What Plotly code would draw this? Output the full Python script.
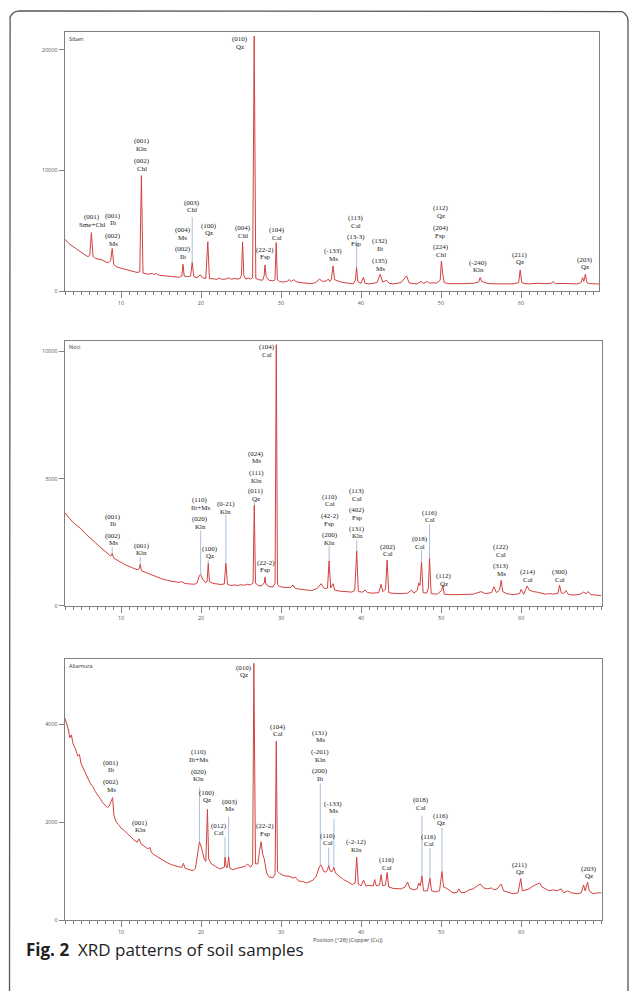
import plotly.graph_objects as go

W, H = 629, 995

# ---------------- Sibari (top) ----------------
sib_x = [3.0, 3.5, 4.0, 4.5, 5.0, 5.5, 5.9, 6.1, 6.3, 6.5, 6.8, 7.2, 7.6, 8.0, 8.4, 8.7, 8.9, 9.1, 9.5, 10.0,
         10.5, 11.0, 11.5, 12.0, 12.35, 12.55, 12.75, 13.0, 13.5, 13.9, 14.1, 14.4, 14.6, 15.0, 15.7, 16.5, 17.3, 17.6, 17.75, 17.9,
         18.3, 18.7, 18.9, 19.1, 19.5, 19.9, 20.2, 20.6, 20.85, 21.05, 21.5, 22.0, 22.3, 22.6, 23.1, 23.5, 23.8, 24.2, 24.5, 24.9,
         25.05, 25.2, 25.35, 25.6, 25.9, 26.2, 26.45, 26.65, 26.85, 27.2, 27.7, 27.9, 28.0, 28.15, 28.5, 29.0, 29.25, 29.4, 29.55, 29.8,
         30.3, 30.8, 31.0, 31.3, 31.6, 31.9, 32.5, 33.2, 33.8, 34.3, 34.8, 35.2, 35.7, 35.9, 36.1, 36.3, 36.5, 36.7, 37.0, 37.5,
         38.0, 38.5, 39.0, 39.3, 39.45, 39.6, 40.0, 40.3, 40.5, 41.0, 41.5, 42.0, 42.4, 42.7, 43.2, 43.5, 44.0, 44.5, 45.0, 45.7,
         46.0, 46.5, 47.0, 47.5, 47.8, 48.3, 48.6, 49.0, 49.4, 49.9, 50.05, 50.2, 50.4, 51.0, 52.0, 53.0, 54.0, 54.7, 54.9, 55.1,
         55.5, 56.0, 57.0, 58.0, 59.0, 59.7, 59.9, 60.1, 60.5, 61.0, 62.0, 63.0, 63.8, 64.0, 64.3, 65.0, 66.0, 67.0, 67.5, 67.7,
         67.85, 68.05, 68.25, 68.6, 69.3, 70.0]
sib_y = [4300, 3950, 3700, 3450, 3200, 3000, 2850, 3000, 4850, 2900, 2700, 2650, 2600, 2450, 2350, 2500, 3530, 2200, 2000, 1900,
         1800, 1700, 1620, 1550, 1600, 9580, 1500, 1450, 1400, 1480, 1380, 1450, 1350, 1300, 1250, 1200, 1150, 1250, 2230, 1250,
         1200, 1250, 2370, 1200, 1100, 1350, 1100, 1050, 4100, 1050, 1000, 980, 1080, 980, 1000, 1100, 980, 1050, 1000, 1050,
         1300, 4080, 1300, 1000, 1100, 1000, 1100, 21150, 1050, 950, 900, 1300, 2170, 1200, 900, 850, 950, 4020, 950, 800,
         750, 820, 950, 800, 950, 780, 700, 650, 620, 700, 1000, 800, 850, 1000, 800, 1000, 2090, 950, 850, 750,
         700, 650, 600, 900, 1960, 800, 650, 1150, 650, 600, 650, 700, 1400, 750, 900, 650, 600, 650, 700, 1270,
         700, 620, 600, 800, 650, 800, 650, 700, 650, 900, 2500, 1500, 700, 620, 600, 620, 650, 750, 1130, 800,
         700, 620, 600, 580, 600, 700, 1760, 700, 620, 600, 650, 620, 650, 800, 620, 640, 650, 600, 700, 1130,
         800, 1400, 700, 620, 600, 600]
sib_lab_x = [6.4, 9.04, 9.04, 12.58, 12.58, 18.83, 17.7, 17.7, 21.0, 25.2, 24.9, 28.0, 29.46,
             36.54, 39.38, 39.38, 42.38, 42.38, 49.96, 49.96, 49.96, 54.67, 59.9, 68.0]
sib_lab_y = [6110, 6250, 4540, 12440, 10790, 7350, 5060, 3490, 5420, 5200, 20900, 3440, 5060,
             3300, 6050, 4510, 4130, 2480, 6860, 5200, 3630, 2340, 3000, 2590]
sib_lab_hkl = ["(001)", "(001)", "(002)", "(001)", "(002)", "(003)", "(004)", "(002)", "(100)", "(004)", "(010)", "(22-2)", "(104)",
               "(-133)", "(113)", "(13-3)", "(132)", "(135)", "(112)", "(204)", "(224)", "(-240)", "(211)", "(203)"]
sib_lab_ph = ["Sme+Chl", "Ilt", "Ms", "Kln", "Chl", "Chl", "Ms", "Ilt", "Qz", "Chl", "Qz", "Fsp", "Cal",
              "Ms", "Cal", "Fsp", "Ilt", "Ms", "Qz", "Fsp", "Chl", "Kln", "Qz", "Qz"]
sib_stick_x = [18.9, 39.45]
sib_stick_top = [6140, 4180]
sib_stick_bot = [2370, 1960]

# ---------------- Noci (middle) ----------------
noc_x = [3.0, 3.5, 4.0, 4.5, 5.0, 5.5, 6.0, 6.5, 7.0, 7.5, 8.0, 8.4, 8.7, 8.9, 9.1, 9.5, 10.0, 10.5, 11.0, 11.5,
         12.0, 12.25, 12.4, 12.55, 13.0, 13.5, 14.0, 14.6, 15.2, 15.8, 16.5, 17.2, 17.6, 18.0, 18.6, 19.2, 19.5, 19.8, 19.95, 20.2,
         20.5, 20.75, 20.9, 21.05, 21.5, 22.0, 22.5, 22.9, 23.1, 23.3, 23.7, 24.2, 24.6, 25.0, 25.4, 25.8, 26.2, 26.5, 26.65, 26.8,
         27.1, 27.5, 27.9, 28.0, 28.1, 28.5, 29.0, 29.25, 29.4, 29.55, 29.8, 30.5, 31.2, 31.5, 31.7, 32.2, 33.0, 33.8, 34.5, 35.0,
         35.4, 35.8, 36.0, 36.2, 36.5, 36.7, 37.3, 38.0, 38.8, 39.2, 39.45, 39.65, 40.2, 40.5, 40.8, 41.5, 42.2, 42.5, 42.7, 43.05,
         43.25, 43.45, 44.0, 45.0, 45.8, 46.3, 46.6, 47.0, 47.2, 47.35, 47.55, 47.75, 48.2, 48.4, 48.55, 48.75, 49.5, 50.05, 50.2, 50.4,
         51.0, 52.0, 53.0, 54.0, 55.0, 55.5, 56.3, 56.6, 56.9, 57.3, 57.5, 57.7, 58.2, 59.0, 59.8, 60.0, 60.3, 60.75, 61.0, 61.5,
         62.0, 62.5, 63.0, 63.5, 64.0, 64.6, 64.8, 65.0, 65.3, 65.6, 65.9, 66.5, 67.0, 67.4, 67.8, 68.1, 68.4, 68.7, 69.2, 70.0]
noc_y = [3650, 3450, 3280, 3150, 3030, 2850, 2700, 2540, 2400, 2280, 2150, 2050, 1950, 2050, 1880, 1800, 1700, 1620, 1550, 1480,
         1420, 1450, 1630, 1380, 1320, 1250, 1180, 1110, 1050, 1000, 960, 920, 950, 880, 860, 850, 900, 1200, 1240, 1050,
         920, 950, 1670, 950, 880, 860, 840, 860, 1670, 850, 800, 820, 800, 830, 810, 850, 820, 900, 3950, 900,
         800, 780, 900, 1130, 850, 760, 740, 900, 10260, 850, 760, 720, 730, 820, 700, 660, 620, 600, 680, 870,
         680, 700, 1760, 700, 870, 620, 580, 560, 540, 600, 2150, 560, 540, 620, 520, 500, 520, 850, 560, 650,
         1800, 520, 490, 480, 500, 620, 500, 600, 900, 800, 1720, 520, 500, 700, 1860, 480, 460, 600, 800, 460,
         440, 440, 440, 460, 560, 480, 520, 750, 520, 620, 1000, 560, 480, 440, 480, 650, 450, 780, 620, 560,
         540, 500, 460, 480, 460, 500, 810, 520, 480, 600, 450, 420, 440, 460, 540, 480, 560, 440, 430, 400]
noc_lab_x = [9.0, 9.0, 12.6, 19.9, 19.9, 21.1, 23.1, 26.9, 26.9, 26.9, 28.1, 28.2,
             36.1, 36.1, 36.1, 39.5, 39.5, 39.5, 43.3, 47.3, 48.6, 50.4, 57.5, 57.5, 60.9, 64.8]
noc_lab_y = [3510, 2750, 2360, 4150, 3400, 2240, 4000, 5970, 5215, 4500, 1690, 10150,
             4280, 3530, 2780, 4500, 3760, 3025, 2320, 2620, 3665, 1160, 2310, 1565, 1330, 1330]
noc_lab_hkl = ["(001)", "(002)", "(001)", "(110)", "(020)", "(100)", "(0-21)", "(024)", "(111)", "(011)", "(22-2)", "(104)",
               "(110)", "(42-2)", "(200)", "(113)", "(402)", "(131)", "(202)", "(018)", "(116)", "(112)", "(122)", "(313)", "(214)", "(300)"]
noc_lab_ph = ["Ilt", "Ms", "Kln", "Ilt+Ms", "Kln", "Qz", "Kln", "Ms", "Kln", "Qz", "Fsp", "Cal",
              "Cal", "Fsp", "Kln", "Cal", "Fsp", "Kln", "Cal", "Cal", "Cal", "Qz", "Cal", "Ms", "Cal", "Cal"]
noc_stick_x = [8.9, 12.4, 19.95, 20.9, 23.1, 26.65, 36.0, 39.45, 47.55, 48.55]
noc_stick_top = [2310, 1920, 2960, 1820, 3560, 4110, 2370, 2580, 2190, 3220]
noc_stick_bot = [1960, 1630, 1240, 1670, 1670, 3950, 1760, 2150, 1720, 1860]

# ---------------- Altamura (bottom) ----------------
alt_x = [3.0, 3.2, 3.4, 3.6, 3.8, 4.0, 4.3, 4.6, 4.8, 5.0, 5.3, 5.6, 5.9, 6.2, 6.5, 6.8, 7.1, 7.4, 7.7, 8.0,
         8.3, 8.5, 8.7, 8.8, 8.95, 9.1, 9.4, 9.7, 10.0, 10.4, 10.8, 11.2, 11.6, 12.0, 12.25, 12.5, 12.9, 13.3, 13.6, 13.8,
         14.2, 14.7, 15.2, 15.7, 16.2, 16.7, 17.2, 17.6, 17.8, 18.0, 18.5, 19.0, 19.3, 19.6, 19.8, 20.1, 20.4, 20.6, 20.8, 20.95,
         21.3, 21.8, 22.3, 22.6, 22.9, 23.0, 23.15, 23.3, 23.45, 23.6, 24.0, 24.5, 25.0, 25.5, 25.8, 26.2, 26.45, 26.6, 26.8, 27.1,
         27.3, 27.5, 27.7, 27.9, 28.2, 28.5, 29.0, 29.25, 29.4, 29.55, 29.8, 30.2, 30.6, 31.0, 31.5, 31.8, 32.2, 32.7, 33.2, 33.6,
         34.0, 34.4, 34.8, 35.0, 35.3, 35.6, 35.8, 35.95, 36.15, 36.4, 36.6, 36.8, 37.2, 37.8, 38.4, 38.9, 39.25, 39.45, 39.65, 40.0,
         40.3, 40.6, 41.0, 41.5, 41.7, 41.9, 42.3, 42.5, 42.7, 43.05, 43.25, 43.45, 44.0, 45.0, 45.5, 45.8, 46.1, 46.6, 47.0, 47.2,
         47.4, 47.6, 47.8, 48.3, 48.6, 48.8, 49.3, 49.8, 50.1, 50.3, 50.6, 51.0, 51.5, 52.0, 52.2, 52.5, 53.0, 53.5, 54.0, 54.5,
         54.9, 55.3, 55.8, 56.3, 56.6, 57.0, 57.5, 57.8, 58.3, 59.0, 59.6, 59.95, 60.15, 60.6, 61.0, 61.5, 62.0, 62.3, 62.6, 63.0,
         63.5, 64.0, 64.5, 65.0, 65.3, 65.8, 66.3, 67.0, 67.5, 67.8, 68.0, 68.3, 68.5, 69.0, 69.5, 70.0]
alt_y = [4120, 4000, 3900, 3720, 3780, 3600, 3500, 3350, 3380, 3200, 3080, 2980, 2880, 2780, 2720, 2620, 2560, 2480, 2400, 2350,
         2300, 2320, 2400, 2480, 2500, 2150, 2000, 1950, 1880, 1830, 1760, 1700, 1640, 1590, 1660, 1560, 1500, 1460, 1480, 1380,
         1330, 1280, 1220, 1180, 1140, 1110, 1090, 1080, 1160, 1060, 1040, 1010, 1060, 1400, 1600, 1450, 1250, 1200, 2260, 1250,
         1150, 1100, 1050, 1060, 1080, 1290, 1080, 1080, 1290, 1060, 1030, 1060, 1080, 1100, 1150, 1080, 1150, 5240, 1150, 1150,
         1400, 1600, 1350, 1250, 960, 880, 870, 950, 3650, 1000, 960, 920, 900, 900, 860, 880, 800, 790, 760, 790,
         820, 900, 1100, 1130, 1000, 980, 1030, 1115, 1000, 1000, 1080, 960, 900, 830, 780, 730, 760, 1285, 740, 700,
         820, 700, 710, 700, 830, 700, 720, 930, 700, 720, 975, 680, 650, 640, 680, 780, 650, 620, 640, 760,
         700, 905, 600, 600, 860, 600, 580, 600, 995, 680, 660, 620, 560, 570, 640, 560, 570, 620, 640, 700,
         740, 660, 640, 660, 620, 640, 740, 600, 570, 540, 560, 850, 600, 620, 640, 700, 740, 760, 680, 640,
         600, 620, 600, 640, 560, 600, 560, 540, 560, 720, 600, 780, 600, 540, 560, 560]
alt_lab_x = [8.75, 8.75, 12.4, 19.7, 19.7, 20.8, 22.25, 23.6, 25.4, 28.0, 29.6,
             34.9, 34.9, 34.9, 36.5, 35.8, 39.4, 43.2, 47.5, 48.5, 50.0, 59.9, 68.5]
alt_lab_y = [3215, 2810, 1990, 3430, 3025, 2605, 1930, 2415, 5145, 1920, 3950,
             3825, 3430, 3040, 2380, 1720, 1590, 1220, 2450, 1705, 2130, 1130, 1050]
alt_lab_hkl = ["(001)", "(002)", "(001)", "(110)", "(020)", "(100)", "(012)", "(003)", "(010)", "(22-2)", "(104)",
               "(131)", "(-201)", "(200)", "(-133)", "(110)", "(-2-12)", "(116)", "(018)", "(116)", "(116)", "(211)", "(203)"]
alt_lab_ph = ["Ilt", "Ms", "Kln", "Ilt+Ms", "Kln", "Qz", "Cal", "Ms", "Qz", "Fsp", "Cal",
              "Ms", "Kln", "Ilt", "Ms", "Cal", "Kln", "Cal", "Cal", "Cal", "Qz", "Qz", "Qz"]
alt_stick_x = [19.8, 23.0, 23.45, 34.9, 36.6, 35.95, 47.6, 48.6, 50.1]
alt_stick_top = [2705, 1705, 2110, 2790, 2065, 1480, 2130, 1470, 1890]
alt_stick_bot = [1600, 1285, 1285, 1130, 1080, 1115, 905, 860, 995]

panels = [
    dict(name="Sibari", x=sib_x, y=sib_y, lx=sib_lab_x, ly=sib_lab_y, lh=sib_lab_hkl, lp=sib_lab_ph,
         sx=sib_stick_x, st=sib_stick_top, sb=sib_stick_bot, yr=21500, yt=[0, 10000, 20000],
         px=(65, 599), py=(32, 292.3), xr=69.75),
    dict(name="Noci", x=noc_x, y=noc_y, lx=noc_lab_x, ly=noc_lab_y, lh=noc_lab_hkl, lp=noc_lab_ph,
         sx=noc_stick_x, st=noc_stick_top, sb=noc_stick_bot, yr=10420, yt=[0, 5000, 10000],
         px=(65, 602), py=(342, 608.3), xr=70.1),
    dict(name="Altamura", x=alt_x, y=alt_y, lx=alt_lab_x, ly=alt_lab_y, lh=alt_lab_hkl, lp=alt_lab_ph,
         sx=alt_stick_x, st=alt_stick_top, sb=alt_stick_bot, yr=5320, yt=[0, 2000, 4000],
         px=(65, 602), py=(662, 924), xr=70.1),
]

fig = go.Figure()
annotations = []
RED = "#d0423f"
BLUE = "#a9c1e0"
LABEL_FONT = dict(family="Liberation Serif, Times New Roman, serif", size=7, color="#1a1a1a")
TICK_FONT = dict(family="Open Sans, sans-serif", size=5.5, color="#555555")

for i, p in enumerate(panels, start=1):
    xa = "x" if i == 1 else f"x{i}"
    ya = "y" if i == 1 else f"y{i}"
    sxs, sys_ = [], []
    for xv, t, b in zip(p["sx"], p["st"], p["sb"]):
        sxs += [xv, xv, None]
        sys_ += [b, t, None]
    fig.add_trace(go.Scatter(x=sxs, y=sys_, mode="lines", line=dict(color=BLUE, width=1),
                             xaxis=xa, yaxis=ya, hoverinfo="skip", showlegend=False))
    fig.add_trace(go.Scatter(x=p["x"], y=p["y"], mode="lines", line=dict(color=RED, width=1),
                             xaxis=xa, yaxis=ya, showlegend=False))
    for xv, yv, h, ph in zip(p["lx"], p["ly"], p["lh"], p["lp"]):
        annotations.append(dict(x=xv, y=yv, xref=xa, yref=ya, text=h, showarrow=False,
                                font=LABEL_FONT, xanchor="center", yanchor="middle"))
        annotations.append(dict(x=xv, y=yv, xref=xa, yref=ya, text=ph, showarrow=False,
                                font=LABEL_FONT, xanchor="center", yanchor="middle", yshift=-7.5))
    annotations.append(dict(x=0.004, y=0.997, xref=f"{xa} domain", yref=f"{ya} domain", text=p["name"],
                            showarrow=False, xanchor="left", yanchor="top",
                            font=dict(family="Open Sans, sans-serif", size=5.5, color="#333333")))
    axis_common = dict(showline=True, linecolor="#808080", linewidth=1.3, mirror=True,
                       ticks="outside", tickcolor="#808080", showgrid=False, zeroline=False,
                       tickfont=TICK_FONT)
    xdom = [p["px"][0] / W, p["px"][1] / W]
    ydom = [1 - p["py"][1] / H, 1 - p["py"][0] / H]
    fig.layout[f"xaxis{'' if i == 1 else i}"] = dict(
        domain=xdom, anchor=ya, range=[3, p["xr"]], tickvals=[10, 20, 30, 40, 50, 60],
        ticklen=6, tickwidth=1,
        minor=dict(dtick=1, tick0=0, ticklen=3, ticks="outside", tickcolor="#808080", showgrid=False),
        **axis_common)
    fig.layout[f"yaxis{'' if i == 1 else i}"] = dict(
        domain=ydom, anchor=xa, range=[0, p["yr"]], tickvals=p["yt"], tickformat="d",
        ticklen=5, tickwidth=1, **axis_common)

# --- outer rounded frame drawn on a full-page overlay axis (pixel units) ---
fx0, fx1, fyt, r = 9.5, 628.0, 11.0, 10.0
frame_x = [fx0, fx0, fx0 + 0.6, fx0 + 2.9, fx0 + 6.0, fx0 + r, fx1 - r, fx1 - 6.0, fx1 - 2.9, fx1 - 0.6, fx1, fx1]
frame_y = [H + 10, fyt + r, fyt + 6.0, fyt + 2.9, fyt + 0.6, fyt, fyt, fyt + 0.6, fyt + 2.9, fyt + 6.0, fyt + r, H + 10]
fig.add_trace(go.Scatter(x=frame_x, y=frame_y, mode="lines", line=dict(color="#555555", width=1.3),
                         xaxis="x4", yaxis="y4", hoverinfo="skip", showlegend=False, cliponaxis=False))
fig.layout["xaxis4"] = dict(domain=[0, 1], range=[0, W], visible=False, fixedrange=True, anchor="y4")
fig.layout["yaxis4"] = dict(domain=[0, 1], range=[H, 0], visible=False, fixedrange=True, anchor="x4")

# axis title & caption
annotations.append(dict(x=348 / W, y=1 - 950 / H, xref="paper", yref="paper",
                        text="Position [°2θ] (Copper (Cu))", showarrow=False,
                        font=dict(family="Open Sans, sans-serif", size=5.5, color="#444444")))
annotations.append(dict(x=24 / W, y=1 - 967 / H, xref="paper", yref="paper", xanchor="left",
                        text="<b>Fig. 2</b>  XRD patterns of soil samples", showarrow=False,
                        font=dict(family="Open Sans, sans-serif", size=17, color="#222222")))

fig.update_layout(width=W, height=H, margin=dict(l=0, r=0, t=0, b=0),
                  paper_bgcolor="white", plot_bgcolor="rgba(0,0,0,0)", annotations=annotations,
                  showlegend=False)

fig.write_html("out.html", config={"displayModeBar": False},
               post_script="document.body.style.margin='0';document.body.style.overflow='hidden';")
